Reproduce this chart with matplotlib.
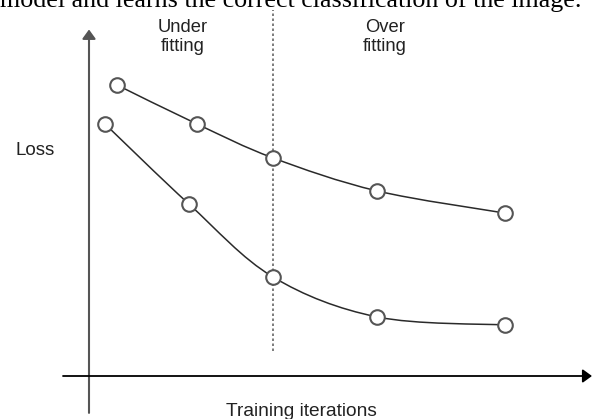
import numpy as np
import matplotlib
matplotlib.use('Agg')
import matplotlib.pyplot as plt
from matplotlib.path import Path
from matplotlib.patches import PathPatch

# --- data (arbitrary units) ---
upper_x = [0.7, 2.7, 4.6, 7.2, 10.4]
upper_loss = [9.7, 8.4, 7.27, 6.17, 5.43]
lower_x = [0.4, 2.5, 4.6, 7.2, 10.4]
lower_loss = [8.4, 5.73, 3.3, 1.97, 1.7]
split_x = 4.6
region_labels = ['Under\nfitting', 'Over\nfitting']
region_x = [2.35, 7.4]
caption = 'model and learns the correct classification of the image.'

plt.rcParams['font.family'] = ['Liberation Sans', 'DejaVu Sans']


def smooth_path(xs, ys):
    # Catmull-Rom tangents -> cubic bezier segments through the points
    p = np.column_stack([xs, ys]).astype(float)
    ext = np.vstack([p[0], p, p[-1]])
    verts = [p[0]]
    codes = [Path.MOVETO]
    for i in range(len(p) - 1):
        c1 = ext[i + 1] + (ext[i + 2] - ext[i]) / 6
        c2 = ext[i + 2] - (ext[i + 3] - ext[i + 1]) / 6
        verts += [c1, c2, ext[i + 2]]
        codes += [Path.CURVE4] * 3
    return Path(verts, codes)


fig = plt.figure(figsize=(5.92, 4.19), dpi=100)
ax = fig.add_axes([0, 0, 1, 1])
ax.set_xlim(-2.225, 12.575)
ax.set_ylim(-1.4333, 12.5333)
ax.axis('off')

# axes arrows
ax.annotate('', xy=(0, 11.55), xytext=(0, -1.23),
            arrowprops=dict(arrowstyle='-|>,head_length=0.55,head_width=0.4',
                            color='#555555', lw=1.5, shrinkA=0, shrinkB=0))
ax.annotate('', xy=(12.575, 0), xytext=(-0.65, 0),
            arrowprops=dict(arrowstyle='-|>,head_length=0.55,head_width=0.4',
                            color='black', lw=1.3, shrinkA=0, shrinkB=0))

# divider
ax.plot([split_x, split_x], [0.83, 12.2], color='#666666', lw=1.2,
        dashes=(1.5, 1.5))

for xs, ys in [(upper_x, upper_loss), (lower_x, lower_loss)]:
    ax.add_patch(PathPatch(smooth_path(xs, ys), fc='none', ec='#2a2a2a', lw=1.1, zorder=2))
    ax.plot(xs, ys, 'o', ms=10.5, mfc='white', mec='#555555', mew=1.5, zorder=3)

for lab, x in zip(region_labels, region_x):
    ax.text(x, 11.3, lab, ha='center', va='center', fontsize=13.2,
            color='#222222', linespacing=1.1)

ax.text(-1.35, 7.5, 'Loss', ha='center', va='center', fontsize=13.5, color='#222222')
ax.text(5.3, -1.33, 'Training iterations', ha='center', va='baseline',
        fontsize=13.8, color='#222222')

fig.text(0.0, 1 - 7 / 419, caption, ha='left', va='baseline', fontsize=18.7,
         family='Liberation Serif', color='black')

fig.savefig('out.png', dpi=100)
